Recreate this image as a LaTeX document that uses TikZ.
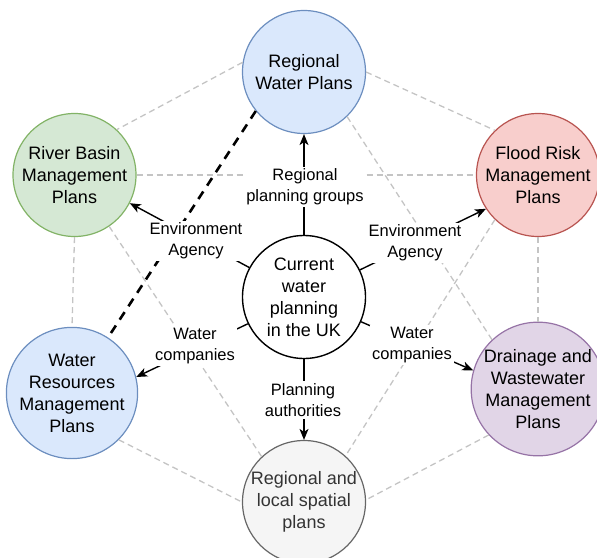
\documentclass[tikz,border=0pt]{standalone}
\usepackage{fontspec}
\setmainfont{Liberation Sans}
\usetikzlibrary{arrows.meta}
\definecolor{bluef}{HTML}{DAE8FC}\definecolor{bluel}{HTML}{6C8EBF}
\definecolor{greenf}{HTML}{D5E8D4}\definecolor{greenl}{HTML}{82B366}
\definecolor{redf}{HTML}{F8CECC}\definecolor{redl}{HTML}{B85450}
\definecolor{purf}{HTML}{E1D5E7}\definecolor{purl}{HTML}{9673A6}
\definecolor{greyf}{HTML}{F5F5F5}\definecolor{greyl}{HTML}{666666}
\definecolor{greyt}{HTML}{333333}
\definecolor{dashg}{HTML}{C4C4C4}
\begin{document}
\begin{tikzpicture}[x=1pt,y=-1pt,
 plan/.style={circle, minimum size=123pt, inner sep=0pt, line width=1.2pt, align=center, font=\fontsize{18}{22}\selectfont},
 lbl/.style={fill=white, inner sep=2pt, align=center, font=\fontsize{16.5}{21}\selectfont},
 link/.style={draw=dashg, line width=1.3pt, dash pattern=on 6pt off 4pt},
 keylink/.style={draw=black, line width=2.6pt, dash pattern=on 9pt off 7pt},
 arr/.style={draw=black, line width=1.4pt, -{Stealth[length=11pt,width=9pt,inset=3pt]}}]
\useasboundingbox (0,0) rectangle (597,557);
\clip (0,0) rectangle (597,557);

% plan circles
\node[plan, draw=bluel, fill=bluef] (T) at (304,72) {Regional\\Water Plans};
\node[plan, draw=greenl, fill=greenf] (RB) at (74.5,175) {River Basin\\Management\\Plans};
\node[plan, draw=redl, fill=redf] (FR) at (538,175) {Flood Risk\\Management\\Plans};
\node[plan, draw=bluel, fill=bluef] (WR) at (72,393) {Water\\Resources\\Management\\Plans};
\node[plan, draw=purl, fill=purf] (DR) at (538,389) {Drainage and\\Wastewater\\Management\\Plans};
\node[plan, draw=greyl, fill=greyf, text=greyt] (BT) at (304,502) {Regional and\\local spatial\\plans};
\node[plan, draw=black, fill=white, line width=1.4pt] (C) at (304,297) {Current\\water\\planning\\in the UK};

% grey dashed relations
\draw[link] (T.171) -- (RB.47);
\draw[link] (T.0) -- (FR.134);
\draw[link] (RB.south) -- (WR.north);
\draw[link] (FR.south) -- (DR.north);
\draw[link] (WR.-45) -- (BT.180);
\draw[link] (DR.223) -- (BT.2);
\draw[link] (RB.east) -- (FR.west);
\draw[link] (T.-46) -- (DR.133);
\draw[link] (RB.-56) -- (BT.133);
\draw[link] (FR.-134) -- (BT.48);

% key relation
\draw[keylink] (T.219) -- (WR.57);

% arrows from centre
\draw[arr] (C) -- (T);
\draw[arr] (C) -- (RB.-27);
\draw[arr] (C) -- (FR.-147);
\draw[arr] (C) -- (WR.14);
\draw[arr] (C) -- (DR.164);
\draw[arr] (C) -- (BT);

% labels
\node[lbl] (lT) at (305,187) {Regional\\planning groups};
\node[lbl] (lRB) at (196,241) {Environment\\Agency};
\node[lbl] (lFR) at (415,243) {Environment\\Agency};
\node[lbl] (lWR) at (195,346) {Water\\companies};
\node[lbl] (lDR) at (412,345) {Water\\companies};
\node[lbl] (lBT) at (303,400) {Planning\\authorities};
\end{tikzpicture}
\end{document}
